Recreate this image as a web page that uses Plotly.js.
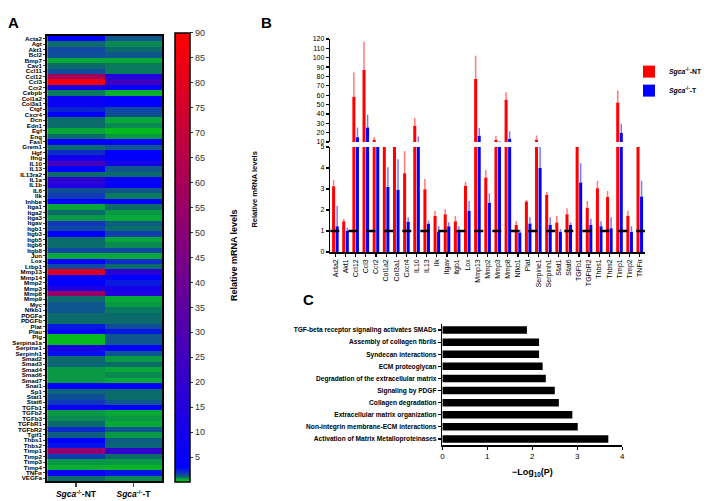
<!DOCTYPE html>
<html>
<head>
<meta charset="utf-8">
<script src="https://cdn.plot.ly/plotly-3.0.1.min.js"></script>
<style>
  body { margin: 0; background: #fff; }
  #plot { width: 707px; height: 501px; }
</style>
</head>
<body>
<div id="plot"></div>
<script>
// ---- panel A: heatmap rows ----
var genes = ['Acta2','Agt','Akt1','Bcl2','Bmp7','Cav1','Ccl11','Ccl12','Ccl3','Ccr2',
  'Cebpb','Col1a2','Col3a1','Ctgf','Cxcr4','Dcn','Edn1','Egf','Eng','Fasl',
  'Grem1','Hgf','Ifng','IL10','IL13','IL13ra2','IL1a','IL1b','IL6','Ilk',
  'Inhbe','Itga1','Itga2','Itga3','Itgav','Itgb1','Itgb3','Itgb5','Itgb6','Itgb8',
  'Jun','Lox','Ltbp1','Mmp13','Mmp14','Mmp2','Mmp3','Mmp8','Mmp9','Myc',
  'Nfkb1','PDGFa','PDGFb','Plat','Plau','Plg','Serpina1a','Serpine1','Serpinh1','Smad2',
  'Smad3','Smad4','Smad6','Smad7','Snai1','Sp1','Stat1','Stat6','TGFb1','TGFb2',
  'TGFb3','TGFbR1','TGFbR2','Tgif1','Thbs1','Thbs2','Timp1','Timp2','Timp3','Timp4',
  'TNF\u03b1','VEGFa'];
var heatNT = [3.1,1.0,1.5,1.4,0.6,1.0,1.4,58,87,12,
  0.9,6,6,2.2,3.8,1.0,1.0,0.6,1.0,3.2,
  1.0,2.0,9,27,3.0,1.0,18,15,1.4,1.7,
  3.0,0.6,1.0,0.7,1.8,1.5,3.0,1.0,1.0,1.5,
  0.6,3.2,1.5,77,3.0,3.6,12.5,55,1.0,1.3,
  1.3,1.0,1.0,2.4,3.0,0.3,0.3,12.5,2.7,1.0,
  1.1,0.7,0.7,0.7,3.0,1.1,1.4,1.8,6,0.7,
  0.8,1.0,2.1,1.2,3.0,2.6,52,1.7,0.7,0.5,
  6,1.0];
var heatT = [1.3,0.8,1.0,1.3,0.6,0.9,0.9,14,25,6,
  0.5,3.1,3.0,1.5,1.4,0.6,0.8,0.3,0.7,3.0,
  1.3,3.0,4,10,1.3,1.0,5,5,1.3,0.9,
  3.2,1.0,0.7,0.6,1.2,1.0,1.6,0.6,0.8,1.5,
  0.6,2.0,1.0,17,3.0,2.4,10,14,0.6,0.7,
  0.9,1.0,1.0,1.4,2.5,1.3,1.3,4.0,1.3,0.7,
  1.0,0.6,0.8,0.6,3.0,1.0,1.0,1.3,3.3,0.6,
  0.7,0.6,1.3,0.7,1.2,1.1,20,1.0,0.7,0.4,
  2.6,0.8];
var heatCols = ['<i>Sgca</i><sup>-/-</sup>-NT', '<i>Sgca</i><sup>-/-</sup>-T'];

// ---- panel B: qPCR bars ----
var bGenes = ['Acta2','Akt1','Ccl12','Ccl3','Ccr2','Col1a2','Col3a1','Cxcr4','IL10','IL13',
  'Ilk','Itgav','Itgb1','Lox','Mmp13','Mmp2','Mmp3','Mmp8','Nfkb1','Plat',
  'Serpine1','Serpinh1','Stat1','Stat6','TGFb1','TGFbR2','Thbs1','Thbs2','Timp1','Timp2',
  'TNF\u03b1'];
var ntMean = [3.13,1.47,58.3,87,12.5,6.5,7.0,3.75,27.4,2.99,
  1.71,1.80,1.47,3.16,77.4,3.55,12.5,55,1.28,2.40,
  12.5,2.72,1.41,1.80,6.5,2.11,3.04,2.62,52.2,1.73,
  7.0];
var ntErr = [0.30,0.10,25.9,30,2.8,1.0,1.0,1.05,8.1,0.49,
  0.24,0.23,0.24,0.18,24.6,0.36,4.2,8,0.19,0.08,
  4.5,0.14,0.30,0.28,1.0,0.32,0.35,0.29,12.8,0.23,
  1.0];
var tMean = [1.23,1.0,15,25.6,7,3.1,2.96,1.44,9.8,1.34,
  0.96,1.23,0.99,1.96,16.7,2.35,10.3,13.5,0.93,1.36,
  4.0,1.28,0.96,1.28,3.31,1.28,1.23,1.13,19.6,0.97,
  2.64];
var tErr = [0.96,0.17,10.6,13.4,1.0,0.93,1.46,0.22,6.2,0.16,
  0.27,0.19,0.24,0.47,8.2,0.45,0.7,7.9,0.14,0.30,
  1.3,0.38,0.14,0.13,0.92,0.30,0.24,0.53,9.9,0.26,
  0.75];

// ---- panel C: pathway enrichment ----
var paths = ['TGF-beta receptor signaling activates SMADs','Assembly of collagen fibrils',
  'Syndecan interactions','ECM proteoglycan','Degradation of the extracellular matrix',
  'Signaling by PDGF','Collagen degradation','Extracellular matrix organization',
  'Non-integrin membrane-ECM interactions','Activation of Matrix Metalloproteinases'];
var logP = [1.88,2.15,2.15,2.23,2.30,2.50,2.59,2.89,3.01,3.69];

var FONT = 'Liberation Sans, Arial, sans-serif';
var zeros = bGenes.map(function(){ return 0; });

var heat = {
  type: 'heatmap',
  x: heatCols,
  y: genes,
  z: genes.map(function(g, i){ return [heatNT[i], heatT[i]]; }),
  xaxis: 'x2', yaxis: 'y3',
  zmin: 0, zmax: 90,
  colorscale: [
    [0, '#00cc00'], [0.6/90, '#08a838'], [1.0/90, '#0b6b6b'],
    [1.6/90, '#1040b0'], [3/90, '#0000ff'], [1, '#ff0000']
  ],
  showlegend: false,
  colorbar: {
    x: 178/707, xanchor: 'left', y: 0.038, yanchor: 'bottom',
    len: 0.896, thickness: 15, xpad: 0, ypad: 0,
    outlinecolor: '#000', outlinewidth: 1.5,
    tickvals: [5,10,15,20,25,30,35,40,45,50,55,60,65,70,75,80,85,90],
    ticks: 'outside', ticklen: 3, tickcolor: '#333',
    tickfont: {family: FONT, size: 9, color: '#333'}
  }
};

function barTrace(y, err, color, ecolor, name, yax, legend) {
  return {
    type: 'bar', x: bGenes, y: y, name: name,
    xaxis: 'x', yaxis: yax, showlegend: legend,
    marker: {color: color, line: {width: 0}},
    error_y: {type: 'data', symmetric: false, array: err, arrayminus: zeros,
              color: ecolor, thickness: 1.5, width: 0}
  };
}

var data = [
  heat,
  barTrace(ntMean, ntErr, '#ff0000', '#ff7a7a', '<i>Sgca</i><sup>-/-</sup>-NT', 'y', true),
  barTrace(tMean, tErr, '#0000ff', '#7a7aff', '<i>Sgca</i><sup>-/-</sup>-T', 'y', true),
  barTrace(ntMean, ntErr, '#ff0000', '#ff7a7a', 'NT', 'y2', false),
  barTrace(tMean, tErr, '#0000ff', '#7a7aff', 'T', 'y2', false),
  {
    type: 'bar', orientation: 'h', x: logP, y: paths,
    xaxis: 'x3', yaxis: 'y4', showlegend: false,
    marker: {color: '#000'}, width: 0.62
  }
];

var ax = {showline: true, linecolor: '#000', linewidth: 1.5, showgrid: false,
          zeroline: false, ticks: 'outside', ticklen: 3, tickwidth: 1.2, tickcolor: '#000'};
function merge(a, b) { var o = {}; for (var k in a) o[k] = a[k]; for (var k2 in b) o[k2] = b[k2]; return o; }

var layout = {
  width: 707, height: 501,
  margin: {l: 0, r: 0, t: 0, b: 0},
  paper_bgcolor: '#fff', plot_bgcolor: 'rgba(0,0,0,0)',
  font: {family: FONT, color: '#000'},
  barmode: 'group', bargap: 0.3, bargroupgap: 0.15,
  legend: {x: 0.905, y: 0.886, xanchor: 'left', yanchor: 'top', itemwidth: 30,
           bgcolor: 'rgba(0,0,0,0)', font: {family: FONT, size: 6.8, weight: 'bold'},
           tracegroupgap: 0},
  // panel B
  xaxis: merge(ax, {domain: [336/707, 656/707], anchor: 'y', type: 'category',
    tickmode: 'array', tickvals: bGenes, tickangle: -90,
    tickfont: {family: FONT, size: 7}}),
  yaxis: merge(ax, {domain: [1-252/501, 1-147/501], anchor: 'x', range: [0, 5],
    dtick: 1, tickfont: {family: FONT, size: 7}}),
  yaxis2: merge(ax, {domain: [1-142/501, 1-39/501], anchor: 'x', range: [10, 120],
    dtick: 10, tickfont: {family: FONT, size: 7}}),
  // panel A
  xaxis2: {domain: [48/707, 165/707], anchor: 'y3', showline: true, mirror: true,
    linecolor: '#000', linewidth: 2, ticks: 'outside', ticklen: 4, tickwidth: 1.5,
    showgrid: false, zeroline: false,
    tickfont: {family: FONT, size: 8.5, weight: 'bold'}},
  yaxis3: {domain: [1-481/501, 1-36/501], anchor: 'x2', autorange: 'reversed',
    showline: true, mirror: true, linecolor: '#000', linewidth: 2,
    ticks: 'outside', ticklen: 2, tickwidth: 1, showgrid: false, zeroline: false,
    tickmode: 'array', tickvals: genes,
    tickfont: {family: FONT, size: 6.2, color: '#000', weight: 'bold'}},
  // panel C
  xaxis3: merge(ax, {domain: [450/707, 633/707], anchor: 'y4', range: [0, 4],
    dtick: 1, tickfont: {family: FONT, size: 8},
    title: {text: '\u2212Log<sub>10</sub>(P)', standoff: 8,
            font: {family: FONT, size: 9, weight: 'bold'}}}),
  yaxis4: merge(ax, {domain: [1-445/501, 1-324/501], anchor: 'x3', autorange: 'reversed',
    tickfont: {family: FONT, size: 6.6, weight: 'bold'}}),
  shapes: [{type: 'line', xref: 'x domain', yref: 'y', x0: 0, x1: 1, y0: 1, y1: 1,
            line: {color: '#000', width: 2.5, dash: 'dash'}}],
  annotations: [
    {text: 'A', x: 6/707, y: 1-12/501, xref: 'paper', yref: 'paper', showarrow: false,
     xanchor: 'left', font: {family: FONT, size: 15, weight: 'bold'}},
    {text: 'B', x: 263/707, y: 1-12/501, xref: 'paper', yref: 'paper', showarrow: false,
     xanchor: 'left', font: {family: FONT, size: 15, weight: 'bold'}},
    {text: 'C', x: 306/707, y: 1-299/501, xref: 'paper', yref: 'paper', showarrow: false,
     xanchor: 'left', font: {family: FONT, size: 15, weight: 'bold'}},
    {text: 'Relative mRNA levels', textangle: -90, x: 259/707, y: 1-150/501,
     xref: 'paper', yref: 'paper', showarrow: false,
     font: {family: FONT, size: 7.5, weight: 'bold'}},
    {text: 'Relative mRNA levels', textangle: -90, x: 231/707, y: 1-255/501,
     xref: 'paper', yref: 'paper', showarrow: false,
     font: {family: FONT, size: 9, weight: 'bold'}}
  ]
};

Plotly.newPlot('plot', data, layout, {staticPlot: true});
</script>
</body>
</html>
